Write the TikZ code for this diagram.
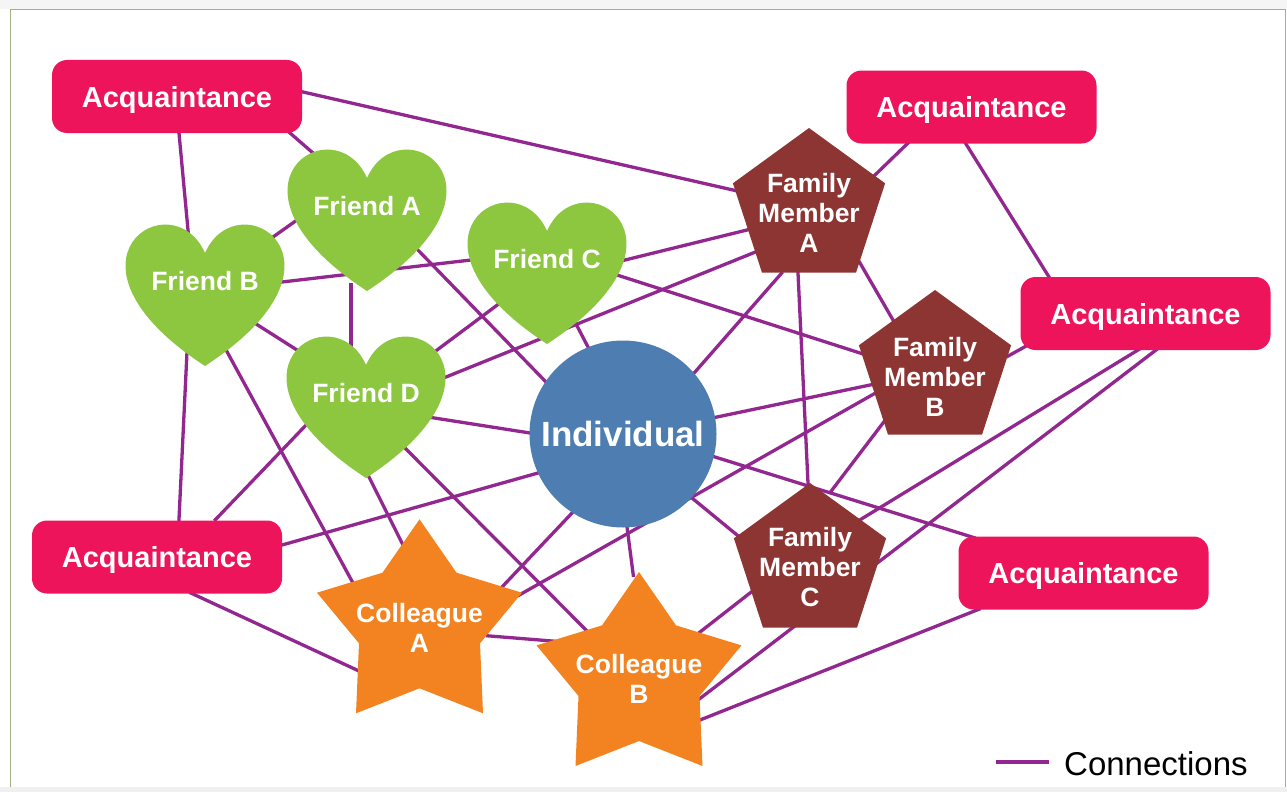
\documentclass[tikz,border=0pt]{standalone}
\usepackage{fontspec}
\setmainfont{Liberation Sans}
\usetikzlibrary{calc}
\definecolor{acqcol}{RGB}{237,20,91}
\definecolor{heartcol}{RGB}{141,198,63}
\definecolor{indcol}{RGB}{78,125,177}
\definecolor{famcol}{RGB}{140,53,51}
\definecolor{starcol}{RGB}{243,131,33}
\definecolor{linecol}{RGB}{146,39,143}
\definecolor{framecol}{RGB}{160,178,130}
\pgfdeclarelayer{back}
\pgfdeclarelayer{lines}
\pgfsetlayers{back,lines,main}
\tikzset{
  conn/.style={draw=linecol, line width=3.3pt, shorten <=-4pt, shorten >=-4pt},
  acqbox/.style={rectangle, rounded corners=15pt, fill=acqcol, minimum width=250pt, minimum height=73pt, inner sep=0pt, text=white, font=\fontsize{29}{33}\selectfont\bfseries, text height=21pt, text depth=0pt},
  indnode/.style={circle, fill=indcol, minimum size=187pt, inner sep=0pt, text=white, font=\fontsize{35}{40}\selectfont\bfseries, text height=25pt, text depth=0pt},
  heartlbl/.style={inner sep=0pt, text=white, font=\fontsize{26.5}{30}\selectfont\bfseries, text height=19pt, text depth=0pt},
  multilbl/.style={inner sep=0pt, text=white, align=center, font=\fontsize{26.5}{30}\selectfont\bfseries},
  legtxt/.style={inner sep=0pt, text=black, font=\fontsize{33}{38}\selectfont, text height=23.6pt, text depth=0pt}
}
\newcommand\myheart[2]{\fill[heartcol, shift={(#1,#2)}] (0,28) .. controls (33,-46) and (161,36) .. (0,141) .. controls (-161,36) and (-33,-46) .. (0,28) -- cycle;}
\newcommand\mystar[2]{\fill[starcol, shift={(#1,#2)}] (0,-107) -- (37,-53.6) -- (102.5,-33.6) -- (60.5,17) -- (63.5,87) -- (0,62) -- (-63.5,87) -- (-60.5,17) -- (-102.5,-33.6) -- (-37,-53.6) -- cycle;}
\newcommand\mypent[2]{\fill[famcol, shift={(#1,#2)}] (0,-80) -- (76.1,-24.7) -- (47,64.7) -- (-47,64.7) -- (-76.1,-24.7) -- cycle;}
\newcommand\cn[4]{\draw[conn] ($(#1)+(#2)$) -- ($(#3)+(#4)$);}
\begin{document}
\begin{tikzpicture}[x=1pt,y=-1pt]
\useasboundingbox (0,0) rectangle (1287,792);
\begin{pgfonlayer}{back}
\fill[white] (0,0) rectangle (1287,792);
\fill[black!4] (0,0) rectangle (1287,9);
\fill[black!6] (0,787) rectangle (1287,792);
\draw[framecol, line width=1.2pt] (10.5,787) -- (10.5,9.5) -- (1285.5,9.5) -- (1285.5,787);
\end{pgfonlayer}

% rounded boxes
\node[acqbox] (T1) at (177,96.5) {Acquaintance};
\node[acqbox] (T2) at (971.5,107) {Acquaintance};
\node[acqbox] (R) at (1145.5,313.5) {Acquaintance};
\node[acqbox] (L) at (157,557) {Acquaintance};
\node[acqbox] (BR) at (1083.5,573) {Acquaintance};

% individual
\node[indnode] (I) at (623,434) {Individual};

% hearts
\myheart{367}{150}
\myheart{205}{225}
\myheart{547}{203}
\myheart{366}{337}
\node[heartlbl] (FA) at (367,205.5) {Friend A};
\node[heartlbl] (FB) at (205,280.5) {Friend B};
\node[heartlbl] (FC) at (547,258.5) {Friend C};
\node[heartlbl] (FD) at (366,392.5) {Friend D};

% pentagons
\mypent{809}{208}
\mypent{935}{370}
\mypent{810}{563}
\node[multilbl] (MA) at (809,213) {Family\\Member\\A};
\node[multilbl] (MB) at (935,377) {Family\\Member\\B};
\node[multilbl] (MC) at (810,567) {Family\\Member\\C};

% stars
\mystar{419.5}{626.3}
\mystar{639}{679}
\node[multilbl] (CA) at (419.5,628) {Colleague\\A};
\node[multilbl] (CB) at (639,679) {Colleague\\B};

% legend
\coordinate (lg1) at (996,762);
\coordinate (lg2) at (1049,762);
\node[legtxt, anchor=west] (legtext) at (1064,764) {Connections};
\draw[draw=linecol, line width=3.3pt] (lg1) -- (lg2);

\begin{pgfonlayer}{lines}
\cn{T1}{126,-4.5}{MA}{-76,-23}
\cn{T1}{113,36.5}{FA}{-54,-52.5}
\cn{T1}{2,36.5}{FB}{-17,-50.5}
\cn{FA}{-70,14.5}{FB}{68,-43.5}
\cn{FB}{77,1.5}{FC}{-76,1.5}
\cn{FA}{-16,81.5}{FD}{-15,-47.5}
\cn{FA}{48,41.5}{I}{-77,-52}
\cn{FB}{48,41.5}{FD}{-69,-42.5}
\cn{FB}{20,67.5}{CA}{-66.5,-45}
\cn{FB}{-18,71.5}{L}{22,-38}
\cn{FD}{71,-42.5}{FC}{-47,44.5}
\cn{FC}{28,63.5}{I}{-35,-87}
\cn{FD}{80,-15.5}{MA}{-56,40}
\cn{FC}{78,1.5}{MA}{-62,17}
\cn{FC}{70,16.5}{MB}{-75,-24}
\cn{FD}{62,24.5}{I}{-93,-1}
\cn{FD}{2,82.5}{CA}{-17.5,-85}
\cn{FD}{36,52.5}{CB}{-52,-48}
\cn{FD}{-58,30.5}{L}{60,-39}
\cn{L}{125,-12}{I}{-85,39}
\cn{L}{36,37}{CA}{-60.5,43}
\cn{I}{-51,79}{CA}{82.5,-41}
\cn{I}{4,93}{CB}{-6,-106}
\cn{CA}{101.5,-34}{MB}{-63,18}
\cn{CA}{70.5,8}{CB}{-87,-38}
\cn{I}{94,-17}{MB}{-65,8}
\cn{I}{72,-62}{MA}{-29,62}
\cn{I}{69,64}{MC}{-73,-32}
\cn{I}{92,23}{BR}{-111.5,-36}
\cn{MA}{-11,60}{MC}{-2,-84}
\cn{MA}{51,50}{MB}{-42,-57}
\cn{MA}{66,-38}{T2}{-64.5,37}
\cn{T2}{-5.5,37}{R}{-96.5,-36.5}
\cn{MB}{75,-22}{R}{-117.5,31.5}
\cn{R}{-7.5,36.5}{MC}{53,-49}
\cn{R}{10.5,36.5}{CB}{59,21}
\cn{MC}{-60,26}{CB}{61,-47}
\cn{BR}{-106.5,37}{CB}{61,41}
\cn{MB}{-52,46}{MC}{22,-77}
\end{pgfonlayer}
\end{tikzpicture}
\end{document}
